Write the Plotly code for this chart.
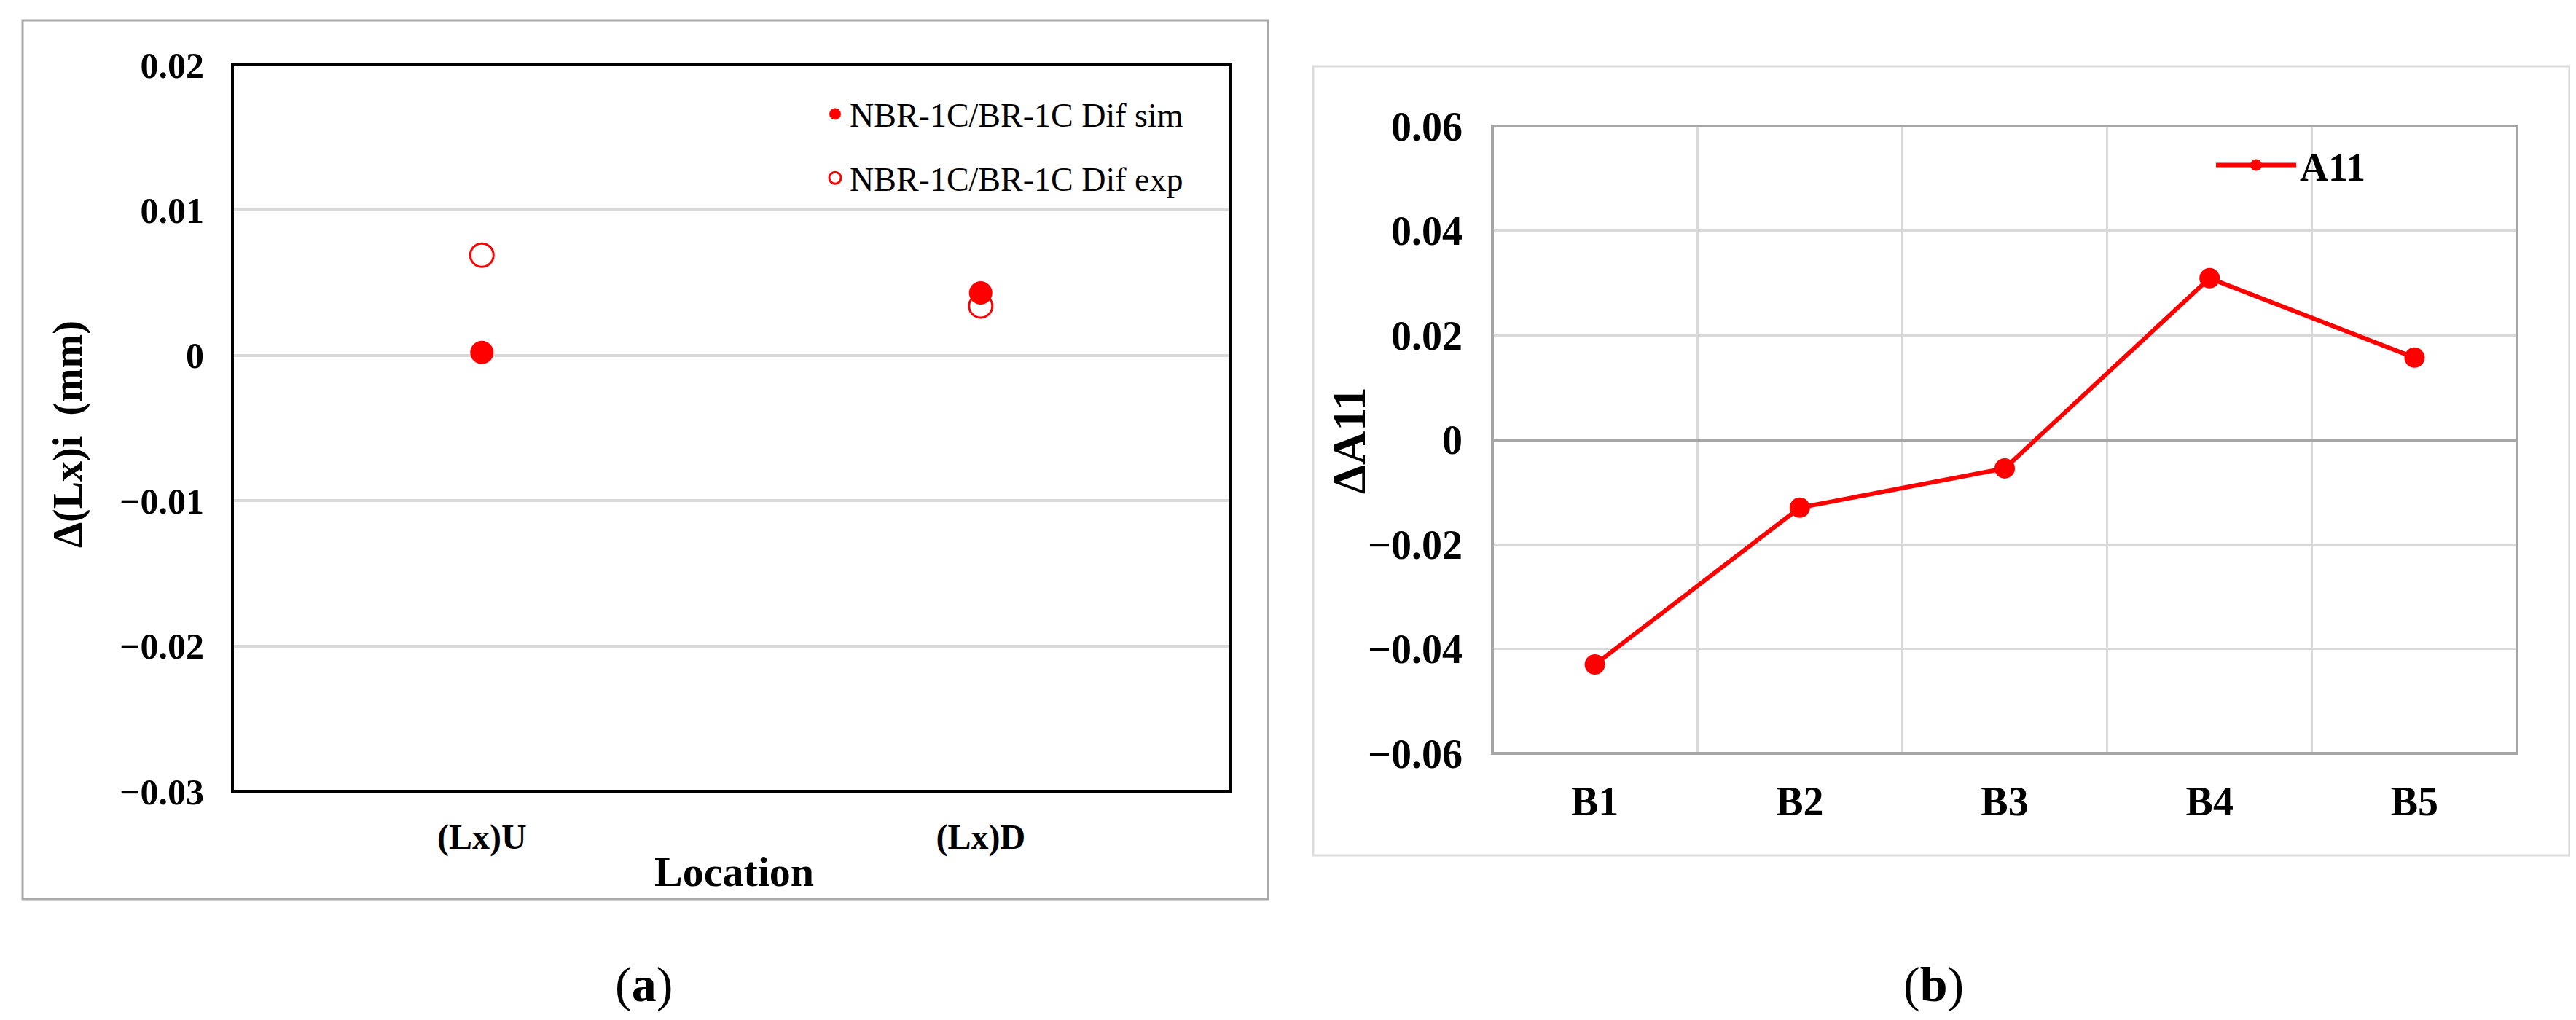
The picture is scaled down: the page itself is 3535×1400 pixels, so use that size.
import plotly.graph_objects as go

W, H = 3535, 1400
SERIF = "Liberation Serif"
RED = "#ff0000"

# panel (a)
locations = ["(Lx)U", "(Lx)D"]
dif_sim = [0.0002, 0.0043]
dif_exp = [0.0069, 0.0034]
a_ticks = [0.02, 0.01, 0, -0.01, -0.02, -0.03]

# panel (b)
blocks = ["B1", "B2", "B3", "B4", "B5"]
a11 = [-0.043, -0.013, -0.0055, 0.0309, 0.0157]
b_ticks = [0.06, 0.04, 0.02, 0, -0.02, -0.04, -0.06]


def fx(p):
    return p / W


def fy(p):
    return 1 - p / H


fig = go.Figure()

# exp drawn first so the filled sim marker sits on top, legendrank keeps sim first
fig.add_trace(go.Scatter(
    x=locations, y=dif_exp, mode="markers", name="NBR-1C/BR-1C Dif exp",
    marker=dict(symbol="circle-open", size=32, color=RED, line=dict(width=3, color=RED)),
    legendgroup="exp", legendrank=2, legend="legend",
    xaxis="x", yaxis="y"))
fig.add_trace(go.Scatter(
    x=locations, y=dif_sim, mode="markers", name="NBR-1C/BR-1C Dif sim",
    marker=dict(symbol="circle", size=32, color=RED),
    legendgroup="sim", legendrank=1, legend="legend",
    xaxis="x", yaxis="y"))

fig.add_trace(go.Scatter(
    x=blocks, y=a11, mode="lines+markers", name="<b>A11</b>",
    line=dict(color=RED, width=6),
    marker=dict(symbol="circle", size=28, color=RED),
    legend="legend2", xaxis="x2", yaxis="y2"))

fig.update_layout(
    width=W, height=H,
    margin=dict(l=0, r=0, t=0, b=0),
    paper_bgcolor="white", plot_bgcolor="white",
    font=dict(family=SERIF, color="black"),
    xaxis=dict(
        domain=[fx(311), fx(1680)], anchor="y",
        type="category", range=[-0.5, 1.5],
        showgrid=False, zeroline=False, automargin=False,
        ticks="", tickfont=dict(family=SERIF, size=48, color="black", weight="bold"),
        ticklabelstandoff=30,
    ),
    yaxis=dict(
        domain=[fy(1078), fy(81)], anchor="x",
        range=[-0.03, 0.02], tickvals=a_ticks,
        showgrid=True, gridcolor="#d9d9d9", gridwidth=4, zeroline=False, automargin=False,
        ticks="", tickfont=dict(family=SERIF, size=50, color="black", weight="bold"),
        ticklabelstandoff=38,
    ),
    xaxis2=dict(
        domain=[fx(2040), fx(3446)], anchor="y2",
        type="category", range=[-0.5, 4.5], tickson="boundaries",
        showgrid=True, gridcolor="#d9d9d9", gridwidth=3, zeroline=False, automargin=False,
        ticks="", tickfont=dict(family=SERIF, size=56, color="black", weight="bold"),
        ticklabelstandoff=28,
    ),
    yaxis2=dict(
        domain=[fy(1026), fy(165)], anchor="x2",
        range=[-0.06, 0.06], tickvals=b_ticks,
        showgrid=True, gridcolor="#d9d9d9", gridwidth=3, automargin=False,
        zeroline=True, zerolinecolor="#a6a6a6", zerolinewidth=4,
        ticks="", tickfont=dict(family=SERIF, size=56, color="black", weight="bold"),
        ticklabelstandoff=40,
    ),
    legend=dict(
        x=fx(1118), y=fy(112), xanchor="left", yanchor="top",
        bgcolor="rgba(0,0,0,0)", borderwidth=0,
        font=dict(family=SERIF, size=46, color="black"),
        traceorder="grouped", tracegroupgap=25,
    ),
    legend2=dict(
        x=fx(3028), y=fy(177), xanchor="left", yanchor="top",
        bgcolor="rgba(0,0,0,0)", borderwidth=0,
        font=dict(family=SERIF, size=54, color="black"),
        itemwidth=110,
    ),
    showlegend=True,
)

# plot-area frames
fig.add_shape(type="rect", xref="x domain", yref="y domain",
              x0=0, x1=1, y0=0, y1=1, line=dict(color="black", width=4), layer="above")
fig.add_shape(type="rect", xref="x2 domain", yref="y2 domain",
              x0=0, x1=1, y0=0, y1=1, line=dict(color="#a6a6a6", width=4), layer="above")

# panel frames
fig.add_shape(type="rect", xref="paper", yref="paper",
              x0=fx(23), x1=fx(1732), y0=fy(1226), y1=fy(20),
              line=dict(color="#aaaaaa", width=3), layer="below")
fig.add_shape(type="rect", xref="paper", yref="paper",
              x0=fx(1794), x1=fx(3518), y0=fy(1166), y1=fy(83),
              line=dict(color="#dcdcdc", width=3), layer="below")


def label(text, px_x, px_y, size, angle=0):
    fig.add_annotation(text=text, textangle=angle,
                       x=fx(px_x), y=fy(px_y), xref="paper", yref="paper",
                       xanchor="center", yanchor="middle", showarrow=False,
                       font=dict(family=SERIF, size=size, color="black"))


label("<b>Δ(Lx)i\u00a0\u00a0(mm)</b>", 86, 588, 56, -90)
label("<b>Location</b>", 999, 1188, 58)
label("<b>ΔA11</b>", 1844, 597, 64, -90)
label("(<b>a</b>)", 875, 1343, 68)
label("(<b>b</b>)", 2645, 1343, 68)

fig.write_html("out.html")
